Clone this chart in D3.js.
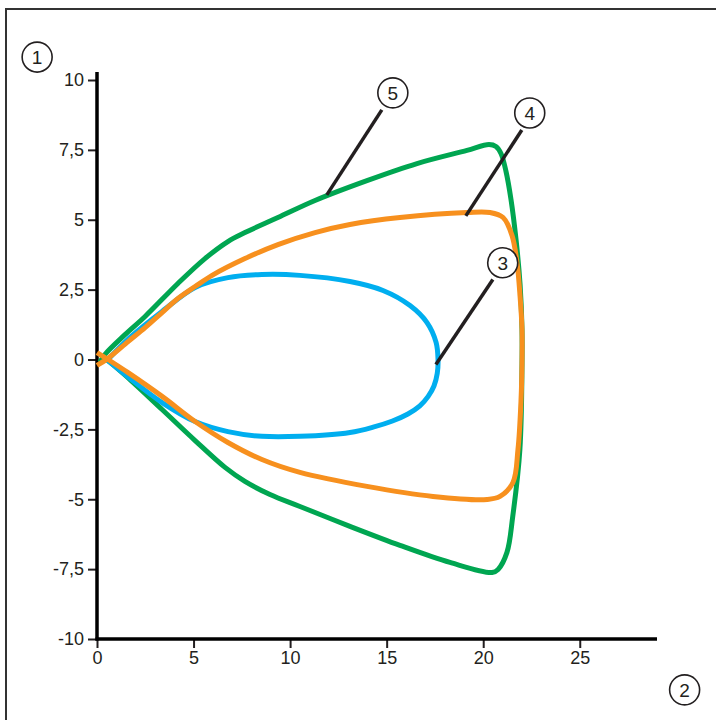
<!DOCTYPE html>
<html lang="en">
<head>
    <meta charset="utf-8">
    <title>Loop chart</title>
    <script type="text/javascript" src="https://cdn.jsdelivr.net/npm/d3@7"></script>
    <style type="text/css">
        body { margin: 0; background: #fff; }
        text { font-family: Arial, "Liberation Sans", sans-serif; fill: #231f20; }
    </style>
</head>
<body>
    <script type="text/javascript">

        //Width and height
        var w = 716;
        var h = 720;

        //Tick values
        var xTicks = [0, 5, 10, 15, 20, 25];
        var yTicks = [-10, -7.5, -5, -2.5, 0, 2.5, 5, 7.5, 10];

        //Curve 3 (blue)
        var curve3 = [[0.57, 0], [1.71, 0.79], [3.37, 1.72], [5.08, 2.58], [6.78, 2.93], [8.54, 3.04],
            [10.51, 3.01], [13.1, 2.79], [14.81, 2.47], [16.21, 1.93], [17.09, 1.32], [17.56, 0.61],
            [17.66, 0], [17.62, -0.5], [17.45, -0.95], [17.15, -1.32], [16.72, -1.66], [16.1, -1.95],
            [15.3, -2.2], [14.3, -2.42], [13.1, -2.61], [10.51, -2.75], [8.54, -2.75], [6.78, -2.58],
            [5.08, -2.22], [3.37, -1.54], [1.71, -0.68], [0.57, -0.04]];

        //Curve 4 (orange)
        var curve4 = [[0, -0.21], [0.57, 0.04], [1.61, 0.64], [2.49, 1.14], [3.37, 1.68], [4.19, 2.18],
            [5.08, 2.61], [5.96, 3.01], [7.66, 3.61], [9.37, 4.11], [11.29, 4.54], [13.1, 4.83],
            [15.69, 5.08], [19.16, 5.26], [20.35, 5.26], [21.03, 5.08], [21.49, 4.44], [21.75, 3.47],
            [21.91, 2.25], [22.01, 1.07], [22.01, -0.11], [21.96, -1.43], [21.8, -3.22], [21.54, -4.4],
            [20.87, -4.9], [20.2, -5.01], [17.4, -4.9], [13.98, -4.54], [10.51, -4.04], [8.54, -3.58],
            [6.78, -2.97], [5.08, -2.22], [3.37, -1.32], [1.61, -0.47], [0.57, 0], [0, 0.25]];

        //Curve 5 (green)
        var curve5 = [[0.15, -0.1], [0.41, 0.18], [1.45, 0.89], [2.49, 1.54], [4.19, 2.72], [5.59, 3.61],
            [6.78, 4.22], [7.66, 4.54], [9.37, 5.08], [11.29, 5.69], [13.98, 6.4], [16.57, 7.01],
            [19.16, 7.48], [20.3, 7.69], [20.66, 7.62], [20.92, 7.37], [21.18, 6.73], [21.44, 5.72],
            [21.7, 4.29], [21.91, 2.68], [22.01, 1.07], [22.01, -0.18], [21.9, -3.21], [21.53, -5.61],
            [21.23, -6.9], [20.77, -7.51], [20.46, -7.62], [18.28, -7.26], [15.69, -6.65], [13.1, -5.97],
            [10.51, -5.26], [8.96, -4.83], [7.66, -4.36], [6.63, -3.86], [5.08, -2.9], [3.37, -1.79],
            [1.71, -0.72], [0.57, -0.04], [0.25, 0.08]];

        var series = [
            { name: "5", color: "#00a651", values: curve5 },
            { name: "3", color: "#00aeef", values: curve3 },
            { name: "4", color: "#f7901e", values: curve4 }
        ];

        //Callouts: label, circle position, leader line start and end (data units)
        var callouts = [
            { label: "5", at: [15.32, 9.54], from: [14.75, 8.93], to: [11.9, 5.89] },
            { label: "4", at: [22.41, 8.82], from: [22.0, 8.21], to: [19.1, 5.14] },
            { label: "3", at: [21.01, 3.46], from: [20.5, 2.86], to: [17.55, -0.18] },
            { label: "1", at: [-3.1, 10.82] },
            { label: "2", at: [30.43, -11.82] }
        ];

        //Scales
        var x = d3.scaleLinear().domain([0, 29]).range([97, 657]);
        var y = d3.scaleLinear().domain([-10, 10]).range([639, 80]);

        //Create SVG element
        var svg = d3.select("body")
            .append("svg")
            .attr("width", w)
            .attr("height", h);

        //Frame
        svg.append("rect")
            .attr("x", 6)
            .attr("y", 9)
            .attr("width", w + 20)
            .attr("height", h + 20)
            .style("fill", "none")
            .style("stroke", "#333")
            .style("stroke-width", 2);

        var fmt = function (d) { return String(d).replace(".", ","); };

        //Y axis
        var yAxis = svg.append("g")
            .attr("transform", "translate(" + x(0) + ",0)")
            .call(d3.axisLeft(y).tickValues(yTicks).tickFormat(fmt).tickSize(9).tickPadding(4));
        yAxis.select(".domain").remove();
        yAxis.selectAll(".tick line").style("stroke", "#231f20").style("stroke-width", 2);
        yAxis.selectAll(".tick text").style("font-size", "18px").style("font-family", "Arial, 'Liberation Sans', sans-serif").attr("fill", "#231f20");

        //X axis
        var xAxis = svg.append("g")
            .attr("transform", "translate(0," + y(-10) + ")")
            .call(d3.axisBottom(x).tickValues(xTicks).tickSize(9).tickPadding(3));
        xAxis.select(".domain").remove();
        xAxis.selectAll(".tick line").style("stroke", "#231f20").style("stroke-width", 2);
        xAxis.selectAll(".tick text").style("font-size", "18px").style("font-family", "Arial, 'Liberation Sans', sans-serif").attr("fill", "#231f20");

        //Axis lines
        svg.append("line")
            .attr("x1", x(0)).attr("x2", x(0))
            .attr("y1", y(-10) + 1.5).attr("y2", y(10) - 8)
            .style("stroke", "#000").style("stroke-width", 3.5);
        svg.append("line")
            .attr("x1", x(0) - 1.5).attr("x2", x(29))
            .attr("y1", y(-10)).attr("y2", y(-10))
            .style("stroke", "#000").style("stroke-width", 3.5);

        //Curves
        var line = d3.line()
            .x(function (d) { return x(d[0]); })
            .y(function (d) { return y(d[1]); })
            .curve(d3.curveCatmullRom.alpha(0.5));

        svg.selectAll("path.curve")
            .data(series)
            .enter()
            .append("path")
            .attr("class", "curve")
            .attr("d", function (d) { return line(d.values); })
            .style("fill", "none")
            .style("stroke", function (d) { return d.color; })
            .style("stroke-width", 5)
            .style("stroke-linejoin", "round");

        //Leader lines
        svg.selectAll("line.leader")
            .data(callouts.filter(function (d) { return d.from; }))
            .enter()
            .append("line")
            .attr("class", "leader")
            .attr("x1", function (d) { return x(d.from[0]); })
            .attr("y1", function (d) { return y(d.from[1]); })
            .attr("x2", function (d) { return x(d.to[0]); })
            .attr("y2", function (d) { return y(d.to[1]); })
            .style("stroke", "#231f20")
            .style("stroke-width", 3.5);

        //Numbered circles
        var marks = svg.selectAll("g.mark")
            .data(callouts)
            .enter()
            .append("g")
            .attr("class", "mark")
            .attr("transform", function (d) { return "translate(" + x(d.at[0]) + "," + y(d.at[1]) + ")"; });
        marks.append("circle")
            .attr("r", 15)
            .style("fill", "#fff")
            .style("stroke", "#231f20")
            .style("stroke-width", 1.6);
        marks.append("text")
            .attr("text-anchor", "middle")
            .attr("dy", "0.36em")
            .style("font-size", "19px")
            .text(function (d) { return d.label; });
    </script>
</body>
</html>
